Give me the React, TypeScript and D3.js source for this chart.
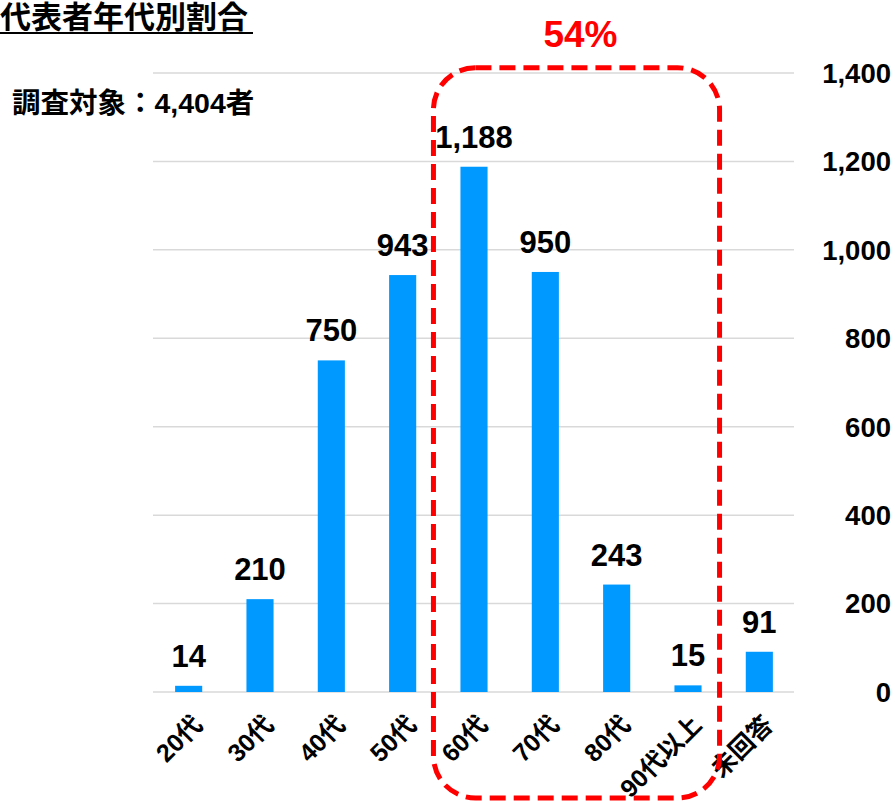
import React from "react";
import * as d3 from "d3";

const categories = ["20代", "30代", "40代", "50代", "60代", "70代", "80代", "90代以上", "未回答"];
const counts = [14, 210, 750, 943, 1188, 950, 243, 15, 91];
const yTicks = [0, 200, 400, 600, 800, 1000, 1200, 1400];
const highlighted = ["60代", "70代", "80代", "90代以上"];
const highlightShare = "54%";
const titleText = "代表者年代別割合";
const subtitleText = "調査対象：4,404者";

const W = 895;
const H = 803;
const FONT = "'Liberation Sans', Arial, 'Noto Sans CJK JP', sans-serif";

export default function App() {
  const x = d3.scaleBand<string>().domain(categories).range([153, 795]).paddingInner(0.62).paddingOuter(0.31);
  const y = d3.scaleLinear().domain([0, 1400]).range([692, 73]);
  const fmt = d3.format(",");
  const bw = x.bandwidth();

  const hx0 = (x(highlighted[0]) as number) - 27;
  const hx1 = (x(highlighted[highlighted.length - 1]) as number) + bw + 18;
  const hy0 = y(1412);
  const hy1 = 798;

  return (
    <svg width={W} height={H} style={{ position: "absolute", left: 0, top: 0, background: "#fff" }} fontFamily={FONT}>
      {yTicks.map((t) => (
        <g key={t}>
          <line x1={153} x2={794} y1={y(t)} y2={y(t)} stroke="#d9d9d9" strokeWidth={1.5} />
          <text x={891} y={y(t)} dy="0.36em" textAnchor="end" fontSize={27.5} fontWeight="bold" fill="#000">
            {fmt(t)}
          </text>
        </g>
      ))}
      {categories.map((c, i) => {
        const cx = (x(c) as number) + bw / 2;
        return (
          <g key={c}>
            <rect x={x(c)} y={y(counts[i])} width={bw} height={y(0) - y(counts[i])} fill="#0099FF" />
            <text x={cx} y={y(counts[i]) - 19} textAnchor="middle" fontSize={31} fontWeight="bold" fill="#000">
              {fmt(counts[i])}
            </text>
            <text
              transform={`translate(${cx + 2},${713}) rotate(-45)`}
              textAnchor="end"
              dy="0.75em"
              fontSize={25}
              fontWeight="bold"
              fill="#000"
            >
              {c}
            </text>
          </g>
        );
      })}
      <rect
        x={hx0}
        y={hy0}
        width={hx1 - hx0}
        height={hy1 - hy0}
        rx={42}
        ry={42}
        fill="none"
        stroke="#FF0000"
        strokeWidth={5}
        strokeDasharray="16 8"
      />
      <text x={(hx0 + hx1) / 2 + 4} y={47} textAnchor="middle" fontSize={37} fontWeight="bold" fill="#FF0000">
        {highlightShare}
      </text>
      <text x={0} y={28} fontSize={31} fontWeight="bold" fill="#000">
        {titleText}
      </text>
      <line x1={0} x2={253} y1={33} y2={33} stroke="#000" strokeWidth={2} />
      <text x={12} y={113} fontSize={28.5} fontWeight="bold" fill="#000">
        {subtitleText}
      </text>
    </svg>
  );
}
